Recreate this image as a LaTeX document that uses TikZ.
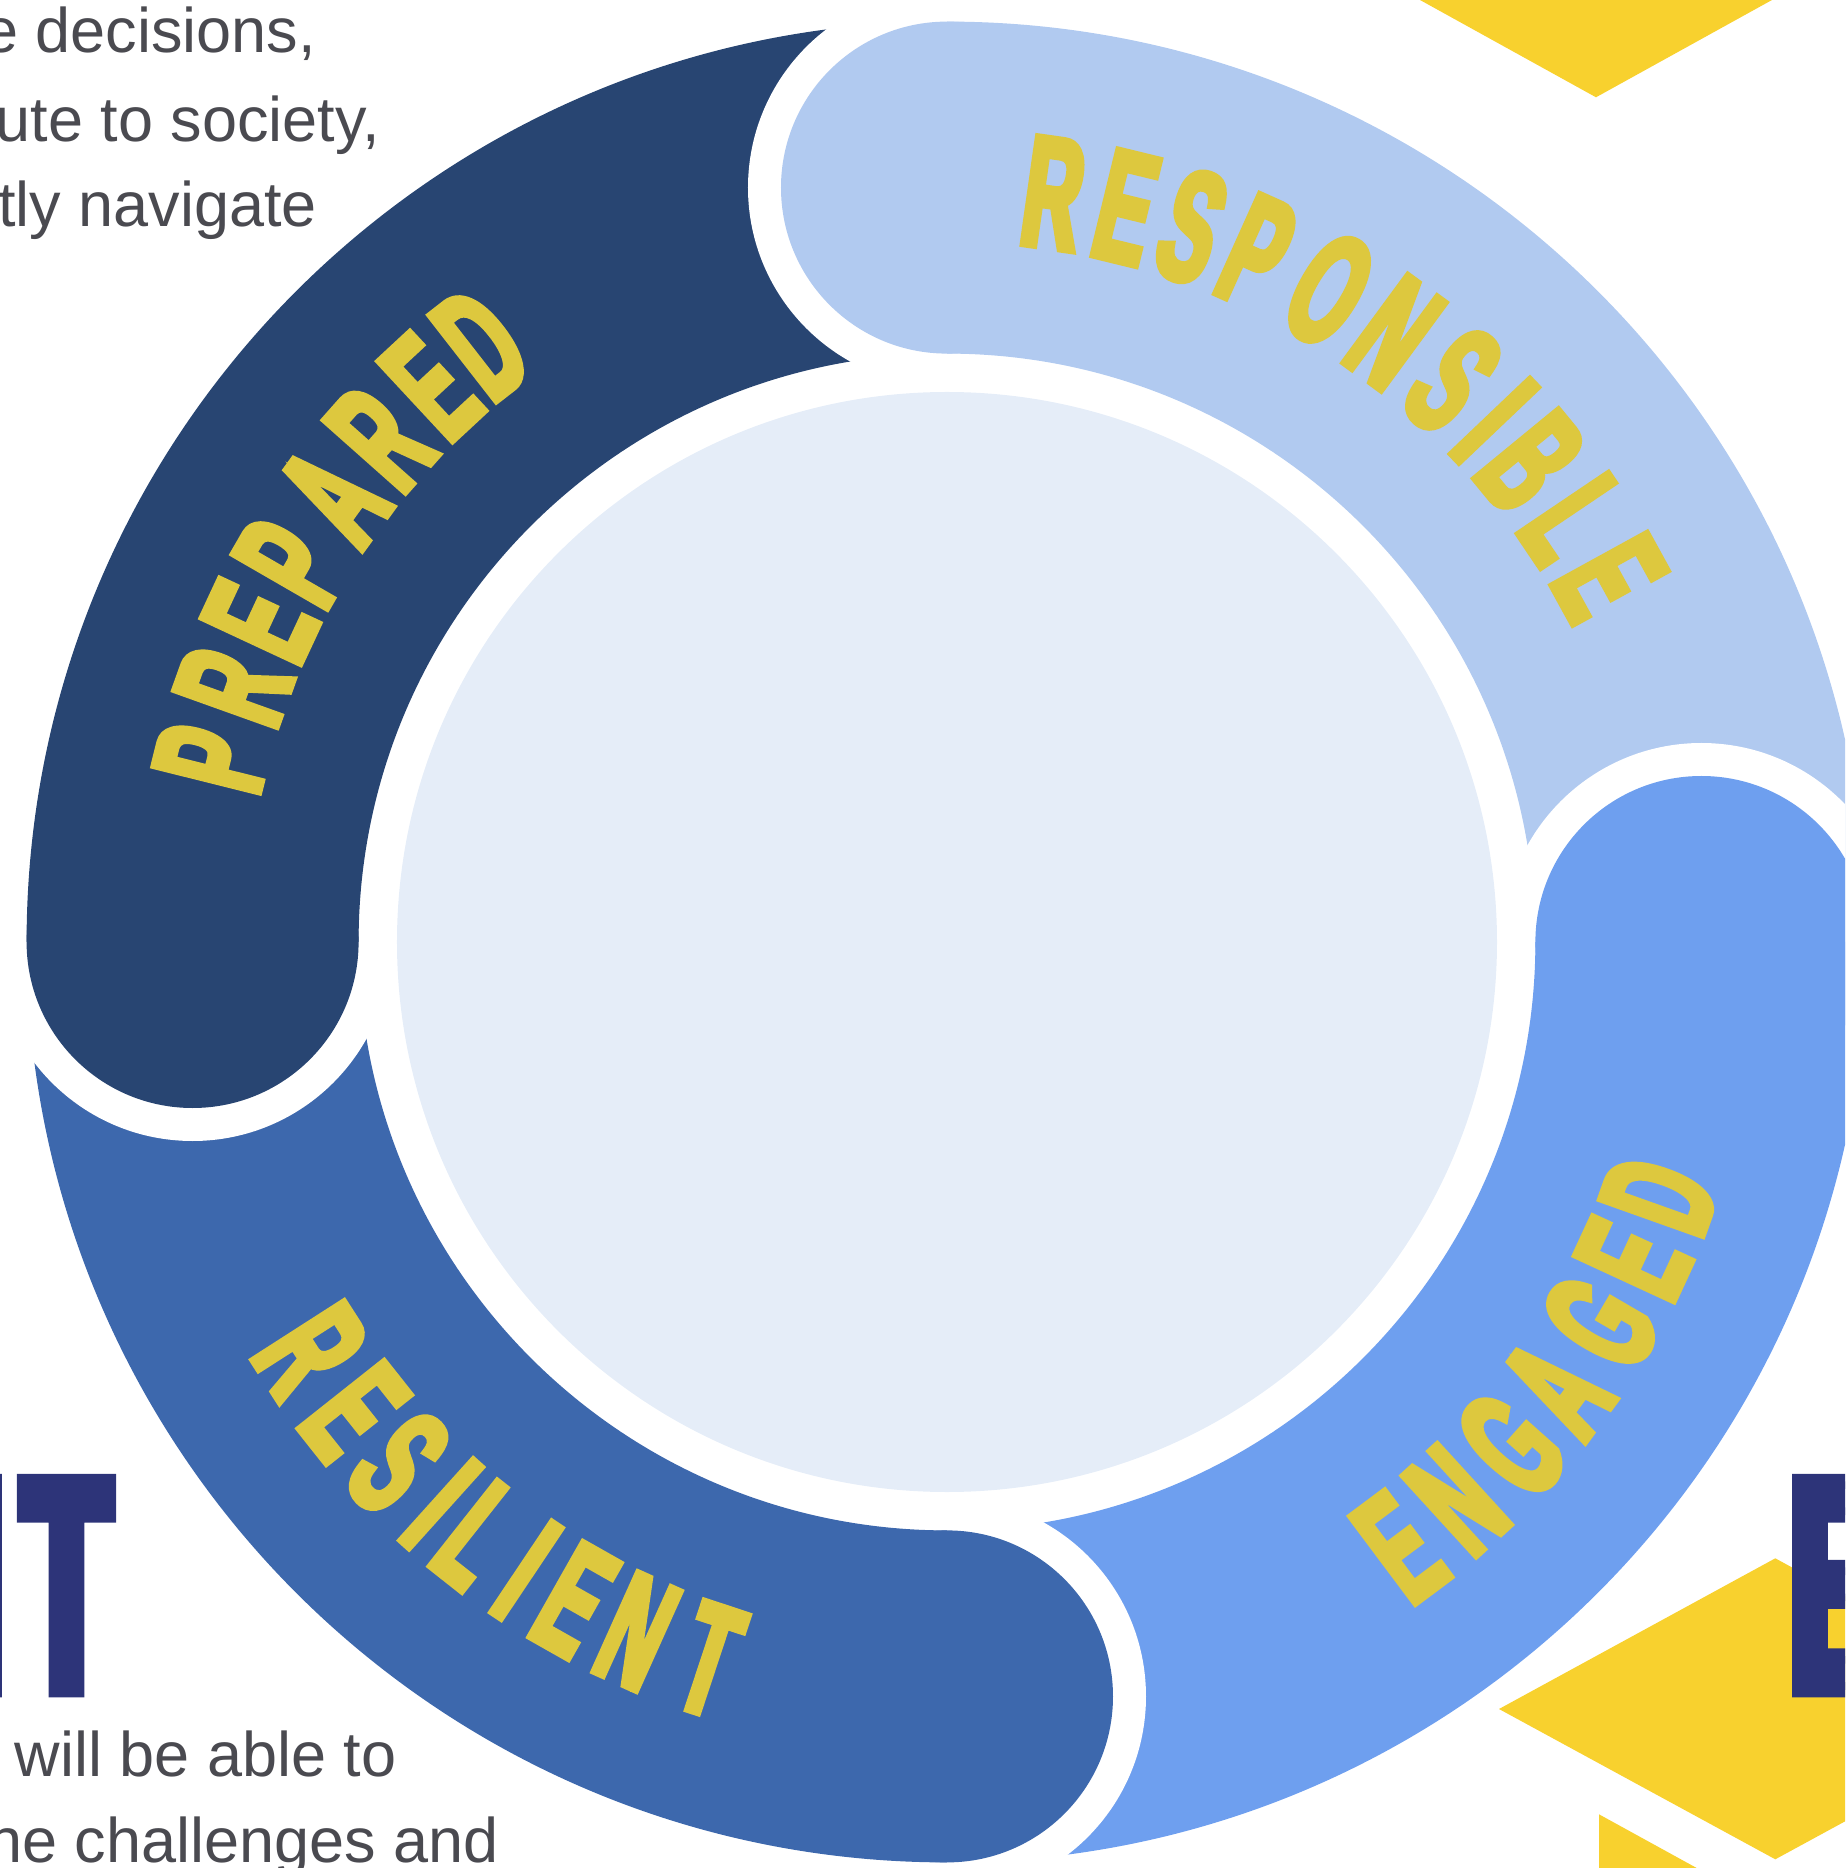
\documentclass[tikz,border=0pt]{standalone}
\usepackage{fontspec}
\setmainfont{Liberation Sans}
\newfontfamily\ringfont{Liberation Sans}[FakeStretch=0.5,FakeBold=4]
\newfontfamily\bigfont{Liberation Sans}[FakeStretch=0.47,FakeBold=5]

\definecolor{prepcol}{HTML}{284572}
\definecolor{respcol}{HTML}{B1CAF0}
\definecolor{engcol}{HTML}{6E9FEF}
\definecolor{rescol}{HTML}{3D68AD}
\definecolor{centercol}{HTML}{E5EDF8}
\definecolor{lblyellow}{HTML}{DDC83E}
\definecolor{shapeyellow}{HTML}{F8D12E}
\definecolor{navyletter}{HTML}{2D3479}
\definecolor{graytext}{HTML}{4A4A50}

\tikzset{
  ringlbl/.style={font=\ringfont\bfseries\fontsize{158}{158}\selectfont,
    text=lblyellow, inner sep=0pt},
  biglbl/.style={font=\bigfont\bfseries\fontsize{303}{303}\selectfont,
    text=navyletter, inner sep=0pt},
  bodytext/.style={font=\fontsize{63}{76}\selectfont, text=graytext,
    inner sep=0pt, anchor=base east},
}

\begin{document}
\begin{tikzpicture}[x=1pt,y=1pt]
\useasboundingbox (-947,-926) rectangle (898,942);
\clip (-947,-926) rectangle (898,942);

% ring geometry (origin = ring centre)
\def\ringOut{920.4}
\def\ringIn{588.4}

% yellow decorations
\fill[shapeyellow] (473,942) -- (649,844.7) -- (825,942) -- cycle;
\fill[shapeyellow] (552,-767) -- (828.3,-616.3) -- (1104.6,-767) -- (828.3,-917.3) -- cycle;
\fill[shapeyellow] (652,-872.3) -- (749.7,-926) -- (652,-926) -- cycle;

% ring bodies, each running a quarter turn clockwise from its cap
\foreach \a/\col in {180/prepcol, 90/respcol, 0/engcol, -90/rescol} {
  \fill[\col] (\a:\ringOut) arc[start angle=\a, end angle=\a-90, radius=\ringOut]
    -- (\a-90:\ringIn) arc[start angle=\a-90, end angle=\a, radius=\ringIn] -- cycle;
}
% rounded caps with a white rim cutting into the preceding segment
\foreach \a/\col in {180/prepcol, 90/respcol, 0/engcol, -90/rescol} {
  \fill[white] (\a:953.4) arc[start angle=\a, end angle=\a+180, radius=199] -- cycle;
  \fill[\col] (\a:754.4) circle[radius=166];
}

% inner disc
\fill[centercol] (0,0) circle[radius=550];

% ring labels, letters set one by one along the ring
\foreach \ch/\ang [count=\i] in {P/166.0, R/160.3, E/155.0, P/150.0, A/144.0, R/138.4, E/132.9, D/127.9}
  \node[ringlbl, rotate=\ang-90] (prep\i) at (\ang:758) {\ch};
\foreach \ch/\ang [count=\i] in {R/81.9, E/76.3, S/71.1, P/65.8, O/59.6, N/53.7, S/48.0, I/43.6, B/39.4, L/34.0, E/28.8}
  \node[ringlbl, rotate=\ang-90] (resp\i) at (\ang:756) {\ch};
\foreach \ch/\ang [count=\i] in {E/-53.2, N/-47.6, G/-41.7, A/-36.2, G/-30.2, E/-24.8, D/-19.6}
  \node[ringlbl, rotate=\ang+90] (eng\i) at (\ang:756) {\ch};
\foreach \ch/\ang [count=\i] in {R/-147.3, E/-141.6, S/-136.5, I/-132.0, L/-128.3, I/-123.8, E/-119.5, N/-114.2, T/-108.3}
  \node[ringlbl, rotate=\ang+90] (res\i) at (\ang:756) {\ch};

% large headings at the edges
\node[biglbl, anchor=south] (headI) at (-963,-748) {I};
\node[biglbl, anchor=south] (headT) at (-880.5,-748) {T};
\node[biglbl, anchor=south west] (headE) at (843,-748) {E};

% body text
\node[bodytext] (txta) at (-631,889.7) {e decisions,};
\node[bodytext] (txtb) at (-567,800.3) {ute to society,};
\node[bodytext] (txtc) at (-630,715.3) {tly navigate};
\node[bodytext] (txtd) at (-550.5,-834.7) {will be able to};
\node[bodytext] (txte) at (-448.3,-920) {the challenges and};
\end{tikzpicture}
\end{document}
